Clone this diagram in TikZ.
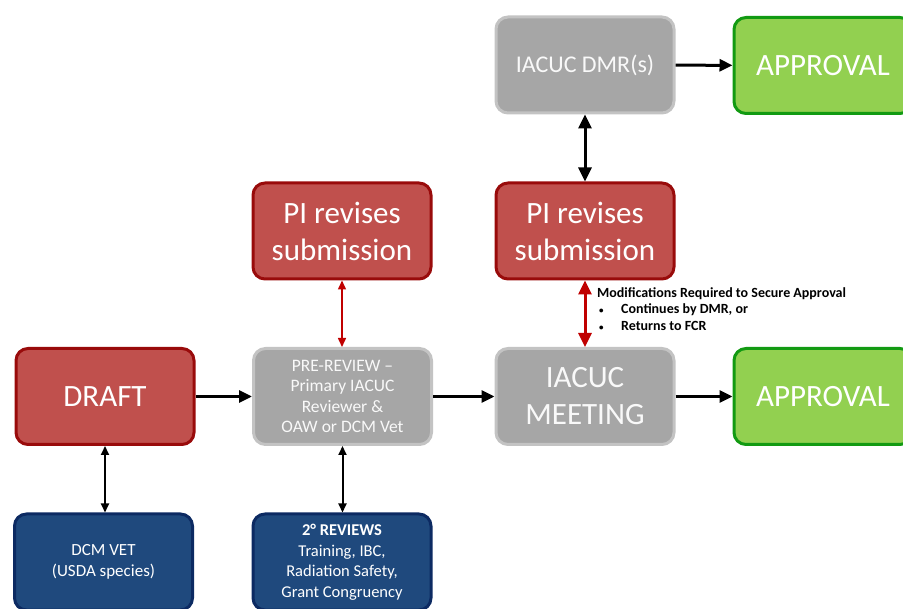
\documentclass[tikz,border=0pt]{standalone}
\usepackage{fontspec}
\setmainfont{Carlito}
\usetikzlibrary{shapes,positioning,arrows,arrows.meta}

\definecolor{redfill}{HTML}{C0504D}
\definecolor{redline}{HTML}{990B0B}
\definecolor{grayfill}{HTML}{A6A6A6}
\definecolor{grayline}{HTML}{C3C3C3}
\definecolor{greenfill}{HTML}{92D050}
\definecolor{greenline}{HTML}{129A12}
\definecolor{bluefill}{HTML}{1F497D}
\definecolor{blueline}{HTML}{0C2A62}
\definecolor{arrowred}{HTML}{C00000}

\newcommand{\notebullet}{\makebox[24pt][l]{\hspace{2pt}{\fontsize{9}{9}\selectfont\textbullet}}}

\begin{document}
\begin{tikzpicture}[x=1pt,y=-1pt,
  box/.style={rounded corners=12pt, line width=3pt, minimum width=178pt,
    minimum height=96pt, align=center, text=white,
    font=\fontsize{31}{37}\selectfont},
  redbox/.style={box, fill=redfill, draw=redline},
  graybox/.style={box, fill=grayfill, draw=grayline, text=white!95!gray},
  greenbox/.style={box, fill=greenfill, draw=greenline},
  bluebox/.style={box, fill=bluefill, draw=blueline},
  flow/.style={line width=3pt, -{Triangle[length=13pt,width=12pt]}},
  link/.style={line width=2pt, {Triangle[length=9pt,width=8pt]}-{Triangle[length=9pt,width=8pt]}},
  biglink/.style={line width=3pt, {Triangle[length=14pt,width=13pt]}-{Triangle[length=14pt,width=13pt]}}
]
\useasboundingbox (0,0) rectangle (903,609);
\clip (0,0) rectangle (903,609);

% boxes of the review path
\node[redbox] (draft) at (105,396.5) {DRAFT};
\node[graybox, font=\fontsize{17.5}{20.5}\selectfont] (prereview) at (342.5,396.5)
  {PRE-REVIEW --\\Primary IACUC\\Reviewer \&\\OAW or DCM Vet};
\node[graybox] (meeting) at (585,396.5) {IACUC\\MEETING};
\node[greenbox] (approval) at (823,396.5) {APPROVAL};

% revisions and designated member review
\node[redbox] (pileft) at (342,231) {PI revises\\submission};
\node[redbox] (piright) at (585,231) {PI revises\\submission};
\node[graybox, font=\fontsize{24}{29}\selectfont] (dmr) at (585,65) {IACUC DMR(s)};
\node[greenbox] (approvaltop) at (823,65.5) {APPROVAL};

% consults
\node[bluebox, font=\fontsize{17}{21}\selectfont] (dcmvet) at (103.5,562)
  {DCM VET\\(USDA species)};
\node[bluebox, font=\fontsize{16.5}{20.5}\selectfont] (reviews) at (342,562)
  {\textbf{2° REVIEWS}\\Training, IBC,\\Radiation Safety,\\Grant Congruency};

% note on the meeting outcome
\node[anchor=north west, align=left, inner sep=0pt, font=\bfseries\fontsize{14}{16.5}\selectfont] (modnote) at (597,287)
  {Modifications Required to Secure Approval\\
   \notebullet Continues by DMR, or\\
   \notebullet Returns to FCR};

\draw[flow] (draft) -- (prereview);
\draw[flow] (prereview) -- (meeting);
\draw[flow] (meeting) -- (approval);
\draw[flow] (dmr) -- (approvaltop);

\draw[link] (draft.south) -- (draft.south |- dcmvet.north);
\draw[link] (prereview.south) -- (prereview.south |- reviews.north);
\draw[link, arrowred, line width=1.5pt] (pileft.south) -- (pileft.south |- prereview.north);
\draw[biglink, arrowred] (piright) -- (meeting);
\draw[biglink] (dmr) -- (piright);
\end{tikzpicture}
\end{document}
